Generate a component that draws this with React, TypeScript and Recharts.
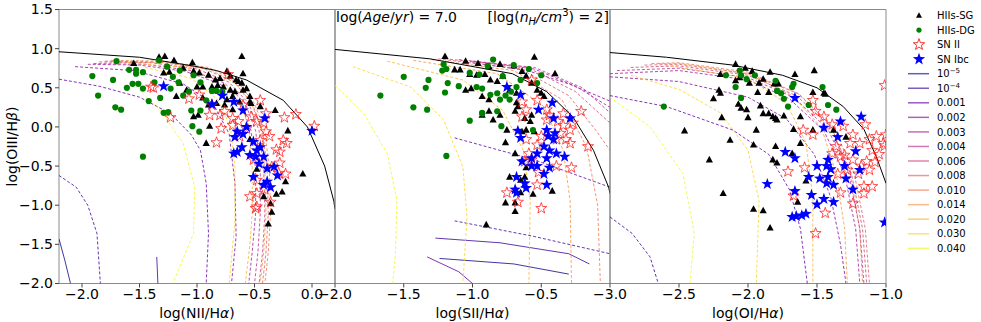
import React from 'react';
import { ComposedChart, Line, Scatter, XAxis, YAxis, ReferenceArea } from 'recharts';

type Pt = [number, number];

// metallicity legend + plasma-like colours
const zLabels = ['10^-5', '10^-4', '0.001', '0.002', '0.003', '0.004', '0.006', '0.008', '0.010', '0.014', '0.020', '0.030', '0.040'];
const zColors = ['#0d0887', '#3e049c', '#6300a7', '#8606a6', '#a21d9a', '#b83289', '#cc4778', '#de5f65', '#ed7953', '#f89540', '#fdb42f', '#fbd524', '#f0f921'];

const yTicks = [-2, -1.5, -1, -0.5, 0, 0.5, 1, 1.5];
const niiTicks = [-2, -1.5, -1, -0.5, 0];
const siiTicks = [-2, -1.5, -1, -0.5];
const oiTicks = [-3, -2.5, -2, -1.5, -1];

// ---- demarcation lines
const niiKewley: Pt[] = [[-2.2, 0.96], [-1.5, 0.89], [-1.0, 0.77], [-0.83, 0.72], [-0.57, 0.6], [-0.25, 0.34], [-0.04, 0.0], [0.11, -0.5], [0.19, -0.95], [0.2, -1.05]];
const siiKewley: Pt[] = [[-2.0, 0.99], [-1.31, 0.87], [-0.71, 0.68], [-0.46, 0.45], [-0.27, 0.13], [-0.12, -0.3], [-0.01, -0.77], [0.0, -0.85]];
const oiKewley: Pt[] = [[-3.0, 0.95], [-2.59, 0.89], [-2.11, 0.79], [-1.75, 0.66], [-1.5, 0.5], [-1.31, 0.26], [-1.16, -0.03], [-1.07, -0.38], [-1.0, -0.72]];

// ---- model curves, NII panel
const nii_m5: Pt[] = [[-2.2, -1.43], [-2.15, -1.7], [-2.1, -2.0]];
const nii_m4s: Pt[] = [[-1.35, -1.66], [-1.34, -2.0]];
const nii_m4: Pt[] = [[-2.2, -0.62], [-2.05, -0.77], [-1.95, -1.0], [-1.87, -1.36], [-1.84, -2.0]];
const nii_001: Pt[] = [[-2.2, 0.61], [-1.85, 0.52], [-1.5, 0.38], [-1.23, 0.17], [-1.05, -0.1], [-0.97, -0.3], [-0.92, -0.72], [-0.9, -1.36], [-0.92, -2.0]];
const nii_002: Pt[] = [[-2.06, 0.77], [-1.55, 0.72], [-1.12, 0.55], [-0.86, 0.3], [-0.72, -0.09], [-0.67, -0.72], [-0.66, -1.4], [-0.7, -2.0]];
const nii_003: Pt[] = [[-1.95, 0.8], [-1.5, 0.79], [-1.1, 0.71], [-0.8, 0.55], [-0.62, 0.3], [-0.53, -0.05], [-0.49, -0.55], [-0.49, -1.1], [-0.52, -1.6], [-0.55, -2.0]];
const nii_004: Pt[] = [[-1.9, 0.81], [-1.45, 0.8], [-1.05, 0.72], [-0.76, 0.56], [-0.58, 0.3], [-0.49, -0.05], [-0.45, -0.55], [-0.45, -1.1], [-0.47, -1.6], [-0.5, -2.0]];
const nii_006: Pt[] = [[-1.85, 0.83], [-1.4, 0.82], [-1.0, 0.74], [-0.72, 0.57], [-0.55, 0.3], [-0.46, -0.05], [-0.42, -0.55], [-0.41, -1.1], [-0.43, -1.6], [-0.46, -2.0]];
const nii_008: Pt[] = [[-1.8, 0.84], [-1.35, 0.83], [-0.95, 0.75], [-0.68, 0.58], [-0.52, 0.3], [-0.43, -0.05], [-0.39, -0.55], [-0.38, -1.1], [-0.4, -1.6], [-0.43, -2.0]];
const nii_010: Pt[] = [[-1.75, 0.85], [-1.3, 0.84], [-0.9, 0.76], [-0.65, 0.58], [-0.5, 0.3], [-0.41, -0.05], [-0.37, -0.55], [-0.36, -1.1], [-0.38, -1.6], [-0.41, -2.0]];
const nii_014: Pt[] = [[-1.7, 0.83], [-1.25, 0.82], [-0.88, 0.73], [-0.66, 0.55], [-0.52, 0.28], [-0.44, -0.05], [-0.41, -0.55], [-0.4, -1.1], [-0.42, -1.6], [-0.45, -2.0]];
const nii_020: Pt[] = [[-1.6, 0.82], [-1.1, 0.76], [-0.78, 0.58], [-0.62, 0.3], [-0.55, 0.0], [-0.52, -0.5], [-0.52, -1.1], [-0.54, -1.5], [-0.58, -2.0]];
const nii_030: Pt[] = [[-1.45, 0.76], [-1.05, 0.62], [-0.82, 0.35], [-0.71, 0.0], [-0.67, -0.5], [-0.67, -1.2], [-0.72, -2.0]];
const nii_040: Pt[] = [[-1.57, 0.57], [-1.32, 0.21], [-1.12, -0.21], [-1.02, -0.77], [-1.03, -1.36], [-1.21, -2.0]];

// ---- model curves, SII panel
const sii_m5: Pt[] = [[-1.24, -1.68], [-0.7, -1.75], [-0.3, -1.88]];
const sii_m4s: Pt[] = [[-1.27, -1.42], [-0.8, -1.48], [-0.3, -1.62], [-0.15, -1.75]];
const sii_m4s2: Pt[] = [[-1.33, -1.66], [-1.1, -1.85], [-1.0, -2.0]];
const sii_m4: Pt[] = [[-1.13, -1.2], [-0.55, -1.4], [0.0, -1.62]];
const sii_001: Pt[] = [[-1.13, -0.14], [-0.55, -0.42], [0.0, -0.77]];
const sii_002: Pt[] = [[-1.0, 0.82], [-0.6, 0.72], [-0.3, 0.55], [0.0, 0.33]];
const sii_003: Pt[] = [[-1.0, 0.84], [-0.55, 0.74], [-0.25, 0.52], [0.0, 0.25]];
const sii_004: Pt[] = [[-1.1, 0.86], [-0.55, 0.76], [-0.2, 0.5], [0.0, 0.18]];
const sii_006: Pt[] = [[-1.2, 0.87], [-0.6, 0.76], [-0.25, 0.45], [0.0, 0.05]];
const sii_008: Pt[] = [[-1.25, 0.87], [-0.65, 0.74], [-0.3, 0.4], [-0.1, -0.05], [0.0, -0.3]];
const sii_010: Pt[] = [[-1.3, 0.86], [-0.7, 0.72], [-0.35, 0.35], [-0.17, -0.26], [-0.09, -1.0], [-0.07, -2.0]];
const sii_014: Pt[] = [[-1.43, 0.85], [-0.82, 0.68], [-0.48, 0.26], [-0.34, -0.3], [-0.29, -0.94], [-0.28, -2.0]];
const sii_020: Pt[] = [[-1.62, 0.84], [-1.07, 0.6], [-0.78, 0.21], [-0.63, -0.3], [-0.58, -0.94], [-0.59, -2.0]];
const sii_030: Pt[] = [[-1.87, 0.77], [-1.45, 0.51], [-1.21, 0.09], [-1.07, -0.51], [-1.04, -1.15], [-1.07, -2.0]];
const sii_040: Pt[] = [[-2.0, 0.53], [-1.79, 0.17], [-1.62, -0.34], [-1.55, -0.94], [-1.56, -1.62], [-1.58, -2.0]];

// ---- model curves, OI panel
const oi_m4: Pt[] = [[-3.0, -1.15], [-2.84, -1.36], [-2.71, -1.66], [-2.65, -2.0]];
const oi_001: Pt[] = [[-3.0, 0.4], [-2.59, 0.26], [-2.11, -0.04], [-1.85, -0.35], [-1.7, -0.8], [-1.62, -1.3], [-1.57, -2.0]];
const oi_002: Pt[] = [[-3.0, 0.64], [-2.5, 0.58], [-2.0, 0.38], [-1.72, 0.1], [-1.52, -0.35], [-1.4, -0.9], [-1.33, -1.5], [-1.29, -2.0]];
const oi_003: Pt[] = [[-3.0, 0.68], [-2.5, 0.72], [-2.0, 0.6], [-1.7, 0.36], [-1.45, -0.05], [-1.3, -0.6], [-1.22, -1.3], [-1.19, -2.0]];
const oi_004: Pt[] = [[-2.95, 0.72], [-2.5, 0.75], [-2.0, 0.63], [-1.67, 0.38], [-1.42, -0.03], [-1.27, -0.6], [-1.19, -1.3], [-1.16, -2.0]];
const oi_006: Pt[] = [[-2.85, 0.76], [-2.5, 0.78], [-2.0, 0.66], [-1.65, 0.4], [-1.4, 0.0], [-1.25, -0.6], [-1.17, -1.3], [-1.14, -2.0]];
const oi_008: Pt[] = [[-2.75, 0.79], [-2.5, 0.8], [-2.0, 0.68], [-1.63, 0.42], [-1.38, 0.0], [-1.23, -0.6], [-1.15, -1.3], [-1.12, -2.0]];
const oi_010: Pt[] = [[-2.7, 0.81], [-2.5, 0.82], [-2.0, 0.7], [-1.64, 0.43], [-1.4, 0.02], [-1.26, -0.6], [-1.19, -1.3], [-1.17, -2.0]];
const oi_014: Pt[] = [[-2.65, 0.81], [-2.5, 0.81], [-2.0, 0.68], [-1.68, 0.4], [-1.47, 0.0], [-1.36, -0.6], [-1.3, -1.3], [-1.28, -2.0]];
const oi_020: Pt[] = [[-2.6, 0.79], [-2.0, 0.62], [-1.72, 0.3], [-1.58, -0.2], [-1.53, -0.9], [-1.53, -2.0]];
const oi_030: Pt[] = [[-2.85, 0.66], [-2.5, 0.48], [-2.2, 0.18], [-2.0, -0.3], [-1.92, -0.94], [-1.94, -2.0]];
const oi_040: Pt[] = [[-3.0, 0.38], [-2.71, 0.0], [-2.47, -0.6], [-2.39, -1.36], [-2.42, -2.0]];

// ---- observed objects, NII panel
const niiSG: Pt[] = [[-1.28, 0.9], [-1.2, 0.85], [-1.04, 0.82], [-0.61, 0.9], [-0.6, 0.68], [-1.29, 0.69], [-1.24, 0.7], [-1.12, 0.75], [-1.03, 0.71], [-0.98, 0.69], [-0.9, 0.66], [-0.84, 0.6], [-0.8, 0.62], [-0.74, 0.71], [-0.71, 0.65], [-0.66, 0.6], [-0.61, 0.56], [-0.57, 0.49], [-0.54, 0.39], [-0.54, 0.32], [-0.63, 0.32], [-0.69, 0.39], [-0.74, 0.35], [-0.83, 0.3], [-0.9, 0.28], [-0.95, 0.37], [-1.18, 0.39], [-1.03, 0.13], [-0.99, 0.15], [-0.89, 0.01], [-0.92, -0.21], [-0.76, 0.28], [-0.69, 0.22], [-0.6, 0.47], [-0.53, 0.3], [-0.45, 0.26], [-0.32, 0.21], [-0.21, -0.05], [-0.08, -0.6], [-0.23, -0.7], [-0.26, -0.83], [-0.31, -0.86], [-0.36, -0.98], [-0.35, -1.09], [-0.38, -1.24], [-0.42, -0.89], [-0.48, -0.54], [-0.54, -0.16], [-1.15, 0.56], [-1.09, 0.47], [-1.0, 0.51], [-0.95, 0.51], [-0.87, 0.51], [-0.82, 0.53], [-0.77, 0.51], [-0.71, 0.47], [-0.67, 0.45], [-0.64, 0.58], [-1.55, 0.81], [-1.33, 0.89]];
const niiDG: Pt[] = [[-1.7, 0.84], [-1.91, 0.65], [-1.86, 0.4], [-1.73, 0.6], [-1.71, 0.25], [-1.66, 0.22], [-1.61, 0.5], [-1.59, 0.73], [-1.53, 0.73], [-1.56, 0.55], [-1.51, 0.55], [-1.47, 0.49], [-1.47, -0.38], [-1.42, 0.33], [-1.37, 0.57], [-1.32, 0.37], [-1.29, 0.18], [-1.25, 0.19], [-1.23, 0.49], [-1.33, 0.85], [-1.26, 0.77], [-1.21, 0.64], [-1.12, 0.4], [-1.07, 0.45], [-1.05, 0.21], [-1.04, 0.01], [-0.98, -0.06], [-0.97, 0.21], [-0.92, 0.34], [-0.87, 0.46], [-0.83, 0.46], [-0.78, 0.45], [-1.15, 0.72], [-1.03, 0.66], [-0.97, 0.57], [-1.16, 0.57], [-1.53, 0.68], [-1.47, 0.7]];
const niiSN2: Pt[] = [[-1.38, 0.5], [-1.23, 0.12], [-1.07, 0.36], [-0.83, -0.2], [-0.73, 0.67], [-0.24, 0.12], [-0.14, 0.16], [-0.25, -0.17], [-0.23, -0.6], [-0.48, -0.85], [-0.49, -1.04], [-0.36, -0.96], [-0.28, -0.32], [-0.22, -0.21], [0.02, 0.01], [-0.87, 0.28], [-0.79, -0.02], [-0.8, 0.15], [-0.69, 0.11], [-0.69, 0.02], [-0.64, 0.07], [-0.57, -0.02], [-0.53, 0.13], [-0.48, 0.07], [-0.42, 0.05], [-0.4, -0.06], [-0.37, -0.12], [-0.31, -0.29], [-0.28, -0.46], [-0.45, -0.17], [-0.51, -0.42], [-0.48, -0.68], [-0.54, -0.89], [-0.48, -1.02], [-0.41, -0.8], [-0.35, -0.51], [-0.29, -0.59], [-0.63, -0.12], [-0.76, 0.2], [-0.89, 0.15], [-0.98, 0.41], [-0.45, 0.34], [-0.4, 0.17], [-0.6, 0.28], [-1.4, 0.51]];
const niiSNIbc: Pt[] = [[-1.29, 0.52], [-0.78, 0.4], [-0.87, 0.29], [-0.68, 0.32], [-0.6, 0.21], [-0.41, 0.11], [-0.65, -0.06], [-0.6, -0.09], [-0.57, 0.0], [-0.67, -0.13], [-0.51, -0.19], [-0.48, -0.3], [-0.54, -0.36], [-0.42, -0.38], [-0.46, -0.47], [-0.39, -0.53], [-0.33, -0.51], [-0.51, -0.64], [-0.42, -0.74], [-0.39, -0.7], [-0.65, -0.32], [0.0, -0.05], [-0.68, -0.34], [-0.61, -0.26], [-0.45, -0.26], [-0.36, -0.77], [-0.3, -0.62], [-0.49, -0.38]];

// ---- observed objects, SII panel
const siiSG: Pt[] = [[-1.2, 0.9], [-1.05, 0.84], [-0.96, 0.81], [-0.88, 0.77], [-0.8, 0.8], [-0.7, 0.78], [-0.55, 0.89], [-0.4, 0.68], [-1.13, 0.73], [-1.09, 0.73], [-1.02, 0.67], [-0.97, 0.66], [-0.91, 0.67], [-0.87, 0.6], [-0.82, 0.58], [-0.78, 0.65], [-0.64, 0.71], [-0.61, 0.65], [-0.57, 0.56], [-0.53, 0.47], [-0.5, 0.43], [-1.05, 0.47], [-1.01, 0.49], [-0.93, 0.39], [-0.88, 0.35], [-0.93, 0.15], [-0.85, 0.09], [-0.88, 0.2], [-0.8, 0.15], [-0.75, -0.04], [-0.76, -0.2], [-0.68, 0.31], [-0.67, 0.26], [-0.69, 0.2], [-0.62, 0.11], [-0.58, 0.07], [-0.57, 0.15], [-0.61, -0.04], [-0.55, -0.06], [-0.48, 0.39], [-0.64, -0.06], [-0.69, -0.34], [-0.73, -0.64], [-0.65, -0.68], [-0.62, -0.64], [-0.65, -0.84], [-0.76, -0.97], [-0.69, -0.97], [-0.69, -1.08], [-0.56, -0.86], [-0.42, -0.82], [-0.9, -1.25], [-0.61, -0.52], [-0.68, 0.43], [-0.73, 0.47]];
const siiDG: Pt[] = [[-1.67, 0.4], [-1.5, 0.64], [-1.43, 0.25], [-1.33, 0.22], [-1.34, 0.5], [-1.32, 0.6], [-1.2, 0.44], [-1.19, -0.37], [-1.1, 0.52], [-1.22, 0.72], [-1.19, 0.74], [-1.02, 0.08], [-0.93, 0.17], [-0.79, 0.01], [-1.18, 0.56], [-0.85, 0.86], [-0.89, 0.78], [-0.7, 0.79], [-0.59, 0.74], [-0.5, 0.66], [-1.02, 0.69], [-0.95, 0.67], [-0.97, 0.51], [-0.93, 0.49], [-0.87, 0.41], [-0.82, 0.43], [-0.8, 0.35], [-0.76, 0.4], [-0.72, 0.45], [-0.68, 0.51], [-0.73, 0.35], [-0.93, 0.18], [-0.82, 0.2], [-0.65, 0.6], [-0.56, -0.04], [-0.53, 0.56], [-1.21, 0.8], [-0.78, 0.65]];
const siiSN2: Pt[] = [[-0.64, 0.32], [-0.61, 0.22], [-0.53, 0.34], [-0.46, 0.22], [-0.44, 0.15], [-0.38, 0.07], [-0.34, 0.02], [-0.29, -0.04], [-0.21, 0.2], [-0.16, -0.25], [-0.28, -0.52], [-0.32, -0.16], [-0.27, 0.05], [-0.36, -0.08], [-0.39, -0.16], [-0.5, -0.12], [-0.53, -0.23], [-0.61, -0.16], [-0.59, -0.34], [-0.62, -0.44], [-0.57, -0.42], [-0.52, -0.58], [-0.53, -0.74], [-0.75, -0.84], [-0.67, -0.96], [-0.5, -1.04], [-0.57, 0.6], [-0.64, 0.13], [-0.34, 0.17], [-0.29, -0.21], [-0.39, -0.5], [-0.46, 0.09]];
const siiSNIbc: Pt[] = [[-0.75, 0.51], [-0.65, 0.41], [-0.52, 0.22], [-0.42, 0.31], [-0.41, 0.11], [-0.29, 0.11], [-0.67, -0.05], [-0.65, -0.14], [-0.46, -0.04], [-0.45, -0.12], [-0.41, -0.16], [-0.48, -0.25], [-0.44, -0.3], [-0.39, -0.34], [-0.33, -0.38], [-0.46, -0.4], [-0.53, -0.34], [-0.57, -0.4], [-0.64, -0.44], [-0.53, -0.5], [-0.48, -0.6], [-0.44, -0.52], [-0.68, -0.64], [-0.62, -0.72], [-0.61, -0.78], [-0.69, -0.8], [-0.68, -0.84], [-0.46, -0.74], [-0.4, -0.08], [-0.57, -0.5]];

// ---- observed objects, OI panel
const oiSG: Pt[] = [[-2.09, 0.8], [-2.02, 0.75], [-1.97, 0.71], [-1.84, 0.7], [-1.66, 0.67], [-1.52, 0.72], [-1.89, 0.61], [-1.92, 0.56], [-1.81, 0.55], [-1.78, 0.55], [-1.99, 0.56], [-2.06, 0.63], [-2.09, 0.59], [-2.21, 0.47], [-2.2, 0.43], [-2.25, 0.36], [-2.07, 0.29], [-2.05, 0.24], [-2.01, 0.22], [-1.93, 0.44], [-1.85, 0.44], [-1.91, 0.27], [-1.89, 0.17], [-1.85, 0.17], [-1.82, 0.13], [-1.79, 0.09], [-1.8, 0.11], [-1.74, 0.14], [-2.19, 0.12], [-2.0, 0.12], [-2.46, -0.05], [-2.13, -0.17], [-1.94, -0.04], [-1.96, -0.23], [-2.28, -0.42], [-1.8, -0.25], [-1.82, -0.42], [-1.79, -0.46], [-1.68, -0.34], [-2.18, -0.85], [-1.96, -1.05], [-1.89, -1.07], [-1.67, -0.03], [-1.62, -0.21], [-1.62, 0.13], [-1.58, -0.69], [-1.64, -0.96], [-1.53, 0.44], [-1.45, 0.43], [-1.44, 0.42], [-1.53, -0.04], [-1.38, -0.04], [-1.29, -0.13], [-2.2, 0.67], [-1.84, -1.29]];
const oiDG: Pt[] = [[-2.16, 0.66], [-2.06, 0.72], [-2.05, 0.66], [-2.01, 0.61], [-1.95, 0.66], [-2.09, 0.51], [-2.05, 0.37], [-1.8, 0.59], [-1.79, 0.46], [-1.76, 0.43], [-1.74, 0.36], [-1.71, 0.26], [-1.68, 0.51], [-1.67, 0.55], [-1.56, 0.28], [-1.46, 0.51], [-1.42, 0.28], [-1.36, 0.22], [-2.61, 0.26]];
const oiSN2: Pt[] = [[-1.53, 0.34], [-1.6, -0.04], [-1.53, -0.1], [-1.51, 0.2], [-1.45, 0.13], [-1.39, 0.03], [-1.31, 0.01], [-1.24, -0.1], [-1.15, 0.03], [-1.12, -0.16], [-1.07, -0.12], [-1.02, -0.21], [-1.01, 0.53], [-1.3, -0.36], [-1.33, -0.38], [-1.36, -0.25], [-1.39, -0.34], [-1.24, -0.42], [-1.18, -0.5], [-1.14, -0.44], [-1.1, -0.76], [-1.16, -0.76], [-1.24, -0.98], [-1.33, -0.84], [-1.44, -1.1], [-1.51, -1.36], [-1.67, -0.88], [-1.71, -0.57], [-1.59, -0.52], [-1.26, -0.21], [-1.19, -0.21], [-1.0, -0.1], [-1.01, -0.24], [-1.1, -0.3], [-1.05, -0.35], [-1.2, -0.6], [-1.28, -0.55], [-1.12, -0.55], [-1.08, -0.45], [-1.35, -0.6], [-1.16, -0.85]];
const oiSNIbc: Pt[] = [[-1.66, 0.37], [-1.33, 0.07], [-1.18, 0.13], [-1.35, -0.13], [-1.45, -0.01], [-1.22, -0.31], [-1.19, -0.55], [-1.3, -0.5], [-1.42, -0.42], [-1.43, -0.5], [-1.4, -0.54], [-1.5, -0.5], [-1.56, -0.64], [-1.48, -0.66], [-1.43, -0.72], [-1.38, -0.74], [-1.29, -0.66], [-1.24, -0.8], [-1.54, -0.87], [-1.45, -0.92], [-1.38, -0.96], [-1.5, -0.99], [-1.66, -0.82], [-1.73, -0.32], [-1.66, -0.4], [-1.86, -0.73], [-1.65, -1.14], [-1.61, -1.13], [-1.58, -1.11], [-1.68, -1.15], [-1.01, -1.22], [-1.42, -0.64]];

type Curve = { z: number; solid?: boolean; pts: Pt[] };

const niiCurves: Curve[] = [
  { z: 0, solid: true, pts: nii_m5 }, { z: 1, solid: true, pts: nii_m4s }, { z: 1, pts: nii_m4 }, { z: 2, pts: nii_001 },
  { z: 3, pts: nii_002 }, { z: 4, pts: nii_003 }, { z: 5, pts: nii_004 }, { z: 6, pts: nii_006 }, { z: 7, pts: nii_008 },
  { z: 8, pts: nii_010 }, { z: 9, pts: nii_014 }, { z: 10, pts: nii_020 }, { z: 11, pts: nii_030 }, { z: 12, pts: nii_040 },
];
const siiCurves: Curve[] = [
  { z: 0, solid: true, pts: sii_m5 }, { z: 1, solid: true, pts: sii_m4s }, { z: 2, solid: true, pts: sii_m4s2 }, { z: 1, pts: sii_m4 },
  { z: 2, pts: sii_001 }, { z: 3, pts: sii_002 }, { z: 4, pts: sii_003 }, { z: 5, pts: sii_004 }, { z: 6, pts: sii_006 },
  { z: 7, pts: sii_008 }, { z: 8, pts: sii_010 }, { z: 9, pts: sii_014 }, { z: 10, pts: sii_020 }, { z: 11, pts: sii_030 }, { z: 12, pts: sii_040 },
];
const oiCurves: Curve[] = [
  { z: 1, pts: oi_m4 }, { z: 2, pts: oi_001 }, { z: 3, pts: oi_002 }, { z: 4, pts: oi_003 }, { z: 5, pts: oi_004 },
  { z: 6, pts: oi_006 }, { z: 7, pts: oi_008 }, { z: 8, pts: oi_010 }, { z: 9, pts: oi_014 }, { z: 10, pts: oi_020 },
  { z: 11, pts: oi_030 }, { z: 12, pts: oi_040 },
];

const xy = (pts: Pt[]) => pts.map(([x, y]) => ({ x, y }));
const fmt = (v: number) => (v < 0 ? '\u2212' : '') + Math.abs(v).toFixed(1);

const starPath = (cx: number, cy: number, R: number) => {
  let d = '';
  for (let i = 0; i < 10; i++) {
    const r = i % 2 === 0 ? R : R * 0.4;
    const a = -Math.PI / 2 + (i * Math.PI) / 5;
    d += (i === 0 ? 'M' : 'L') + (cx + r * Math.cos(a)).toFixed(2) + ',' + (cy + r * Math.sin(a)).toFixed(2);
  }
  return d + 'Z';
};

const Tri = (p: any) => (
  <polygon points={`${p.cx},${p.cy - 4} ${p.cx - 3.6},${p.cy + 2.6} ${p.cx + 3.6},${p.cy + 2.6}`} fill="#000" />
);
const Dot = (p: any) => <circle cx={p.cx} cy={p.cy} r={3.1} fill="#008000" />;
const OpenStar = (p: any) => <path d={starPath(p.cx, p.cy, 5.8)} fill="none" stroke="#ff1a1a" strokeOpacity={0.85} strokeWidth={0.9} />;
const BlueStar = (p: any) => <path d={starPath(p.cx, p.cy, 6.2)} fill="#0000ff" />;

const AXIS = '#8a8a8a';

type PanelProps = {
  left: number; width: number; yw: number; right: number; domain: [number, number]; ticks: number[];
  showY: boolean; curves: Curve[]; kewley: Pt[]; sg: Pt[]; dg: Pt[]; sn2: Pt[]; snIbc: Pt[];
};

function Panel(p: PanelProps) {
  return (
    <div style={{ position: 'absolute', left: p.left, top: 0 }}>
      <ComposedChart width={p.width} height={322} margin={{ top: 9.5, right: p.right, bottom: 0, left: 0 }}>
        <XAxis type="number" dataKey="x" domain={p.domain} ticks={p.ticks} interval={0} allowDataOverflow
          height={38.5} axisLine={false} tickSize={4} tickMargin={2} tickLine={{ stroke: '#444' }}
          tick={{ fill: '#000', fontSize: 14 }} tickFormatter={fmt} />
        <YAxis type="number" dataKey="y" domain={[-2, 1.5]} ticks={yTicks} interval={0} allowDataOverflow
          width={p.yw} axisLine={false} tickSize={4} tickMargin={2} tickLine={{ stroke: '#444' }}
          tick={p.showY ? { fill: '#000', fontSize: 14 } : false} tickFormatter={fmt} />
        {p.curves.map((c, i) => (
          <Line key={'c' + i} data={xy(c.pts)} dataKey="y" type="linear" stroke={zColors[c.z]} strokeOpacity={0.8}
            strokeWidth={1} strokeDasharray={c.solid ? undefined : '3 2'} dot={false} activeDot={false}
            isAnimationActive={false} />
        ))}
        <Line data={xy(p.kewley)} dataKey="y" type="linear" stroke="#000" strokeWidth={1} dot={false}
          activeDot={false} isAnimationActive={false} />
        <Scatter data={xy(p.sg)} shape={Tri} isAnimationActive={false} />
        <Scatter data={xy(p.dg)} shape={Dot} isAnimationActive={false} />
        <Scatter data={xy(p.sn2)} shape={OpenStar} isAnimationActive={false} />
        <Scatter data={xy(p.snIbc)} shape={BlueStar} isAnimationActive={false} />
        <ReferenceArea x1={p.domain[0]} x2={p.domain[1]} y1={-2} y2={1.5} fill="none" fillOpacity={0}
          stroke={AXIS} strokeWidth={1} />
      </ComposedChart>
    </div>
  );
}

function ZLabel({ s }: { s: string }) {
  if (s.startsWith('10^')) {
    return (<>10<tspan dy={-4} fontSize={7}>{'\u2212' + s.slice(4)}</tspan></>);
  }
  return <>{s}</>;
}

function Overlay() {
  const row = (i: number) => 15.5 + i * 14.55;
  return (
    <svg width={981} height={322} style={{ position: 'absolute', left: 0, top: 0, pointerEvents: 'none' }}
      fontFamily="'DejaVu Sans', sans-serif">
      <text transform="translate(12,146.5) rotate(-90)" textAnchor="middle" dominantBaseline="central" fontSize={14}>
        log(OIII/H<tspan fontStyle="italic">β</tspan>)
      </text>
      <text x={197} y={318} textAnchor="middle" fontSize={14}>log(NII/H<tspan fontStyle="italic">α</tspan>)</text>
      <text x={472.5} y={318} textAnchor="middle" fontSize={14}>log(SII/H<tspan fontStyle="italic">α</tspan>)</text>
      <text x={748} y={318} textAnchor="middle" fontSize={14}>log(OI/H<tspan fontStyle="italic">α</tspan>)</text>

      <text x={336} y={22} fontSize={14}>
        log(<tspan fontStyle="italic">Age</tspan>/<tspan fontStyle="italic">yr</tspan>) = 7.0
      </text>
      <text x={609} y={22} textAnchor="end" fontSize={14}>
        [log(<tspan fontStyle="italic">n</tspan><tspan fontStyle="italic" fontSize={10} dy={3}>H</tspan>
        <tspan dy={-3} fontStyle="italic">/cm</tspan><tspan fontSize={10} dy={-6}>3</tspan><tspan dy={6}>) = 2]</tspan>
      </text>

      <g fontSize={10}>
        <polygon points={`919,${row(0) - 3.3} 916,${row(0) + 2.2} 922,${row(0) + 2.2}`} fill="#000" />
        <text x={937} y={row(0) + 3.6}>HIIs-SG</text>
        <circle cx={919} cy={row(1)} r={2.6} fill="#008000" />
        <text x={937} y={row(1) + 3.6}>HIIs-DG</text>
        <path d={starPath(919, row(2), 6)} fill="none" stroke="#ff1a1a" strokeWidth={0.9} />
        <text x={937} y={row(2) + 3.6}>SN II</text>
        <path d={starPath(919, row(3), 6.5)} fill="#0000ff" />
        <text x={937} y={row(3) + 3.6}>SN Ibc</text>
        {zLabels.map((s, i) => (
          <g key={s}>
            <line x1={908} x2={929} y1={row(4 + i)} y2={row(4 + i)} stroke={zColors[i]} strokeOpacity={0.65} strokeWidth={1.5} />
            <text x={937} y={row(4 + i) + 3.6}><ZLabel s={s} /></text>
          </g>
        ))}
      </g>
    </svg>
  );
}

export default function App() {
  return (
    <div style={{ position: 'relative', width: 981, height: 322, fontFamily: "'DejaVu Sans', sans-serif", background: '#fff' }}>
      <style>{'body{margin:0}'}</style>
      <Panel left={0} width={336} yw={59} right={1} domain={[-2.2, 0.2]} ticks={niiTicks} showY
        curves={niiCurves} kewley={niiKewley} sg={niiSG} dg={niiDG} sn2={niiSN2} snIbc={niiSNIbc} />
      <Panel left={305} width={316} yw={30} right={11} domain={[-2, 0]} ticks={siiTicks} showY={false}
        curves={siiCurves} kewley={siiKewley} sg={siiSG} dg={siiDG} sn2={siiSN2} snIbc={siiSNIbc} />
      <Panel left={580} width={340} yw={30} right={34} domain={[-3, -1]} ticks={oiTicks} showY={false}
        curves={oiCurves} kewley={oiKewley} sg={oiSG} dg={oiDG} sn2={oiSN2} snIbc={oiSNIbc} />
      <Overlay />
    </div>
  );
}
